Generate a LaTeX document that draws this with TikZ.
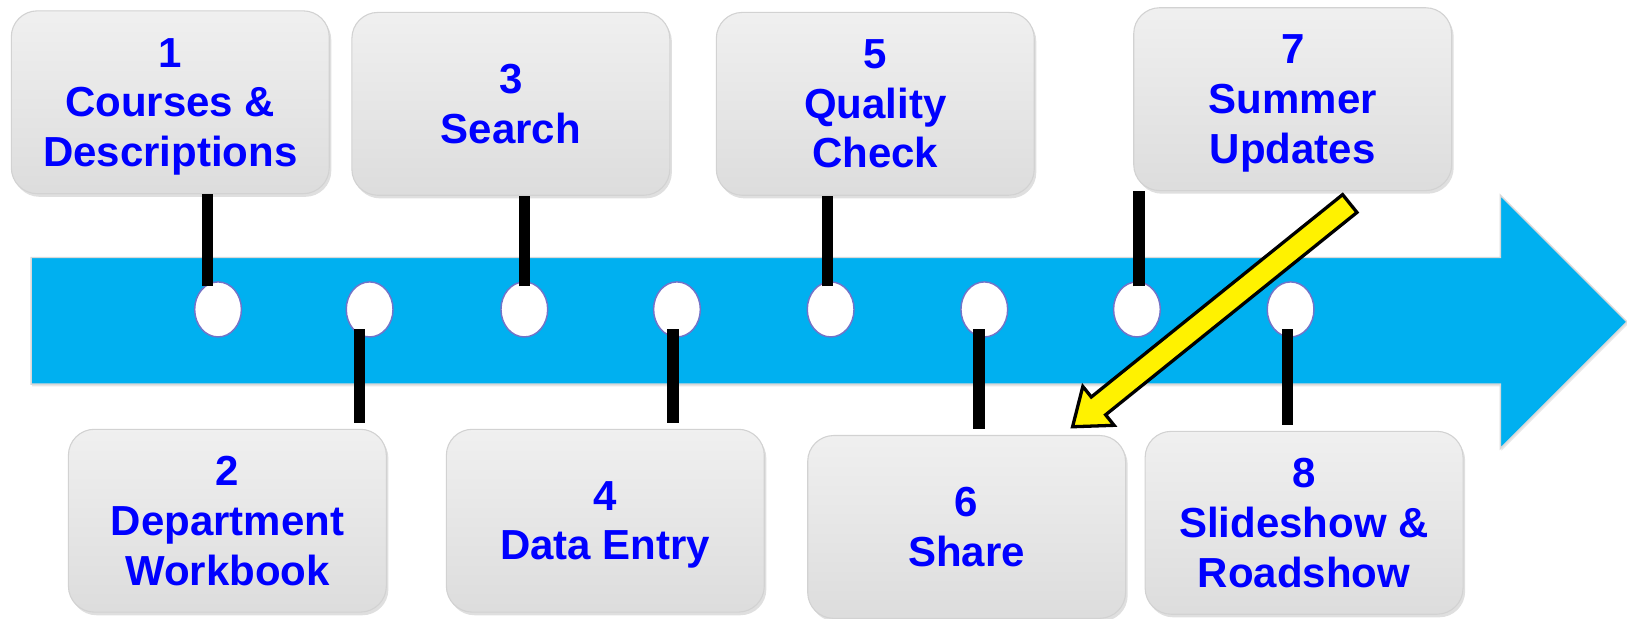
\documentclass[tikz,border=0pt]{standalone}
\usepackage{fontspec}
\setmainfont{Liberation Sans}
\usepackage{xcolor}
\usepackage{tikz}
\usetikzlibrary{calc,shadows,shapes.geometric}
\definecolor{bandblue}{RGB}{0,176,240}
\definecolor{stepblue}{RGB}{0,0,255}
\definecolor{ringblue}{RGB}{115,115,200}

\begin{document}
\begin{tikzpicture}[x=0.01cm,y=-0.01cm,every node/.style={align=center},
    stepbox/.style={rounded corners=0.25cm,top color=gray!12,bottom color=gray!27,draw=gray!35,line width=0.3pt,
      minimum width=3.06cm,minimum height=1.76cm,text depth=0pt,text=stepblue,font=\bfseries\fontsize{11.5}{13.6}\selectfont,
      drop shadow={opacity=0.25,shadow xshift=0.02cm,shadow yshift=-0.03cm}},
    hole/.style={ellipse,draw=ringblue,fill=white,line width=0.4pt,minimum width=0.45cm,minimum height=0.53cm,inner sep=0pt},
    stem/.style={line width=0.11cm}]
  \useasboundingbox (0,0) rectangle (1567,596);
  % time line
  \draw[draw=gray!30,fill=bandblue,drop shadow={opacity=0.2,shadow xshift=0.01cm,shadow yshift=-0.02cm}]
    (30,248) -- (1445,248) -- (1445,188) -- (1567,310) -- (1445,432) -- (1445,370) -- (30,370) -- cycle;
  \foreach \i/\x in {1/210,2/356,3/505,4/652,5/800,6/948,7/1095,8/1243}
    \node[hole] (e\i) at (\x,298) {};
  % steps
  \node[stepbox] (b1) at (164,98.5) {1\\Courses \&\\Descriptions};
  \node[stepbox] (b3) at (492,100) {3\\Search};
  \node[stepbox] (b5) at (843,100) {5\\Quality\\Check};
  \node[stepbox] (b7) at (1245,95.5) {7\\Summer\\Updates};
  \node[stepbox] (b2) at (219,501.5) {2\\Department\\Workbook};
  \node[stepbox] (b4) at (583,501.5) {4\\Data Entry};
  \node[stepbox] (b6) at (931,507.5) {6\\Share};
  \node[stepbox] (b8) at (1256,503.5) {8\\Slideshow \&\\Roadshow};
  \foreach \i/\dx in {1/-0.1,3/0,5/-0.03,7/0.02}
    \draw[stem] ([xshift=\dx cm,yshift=-0.05cm]e\i.north) -- ([xshift=\dx cm]e\i.north |- b\i.south);
  \foreach \i/\dx in {2/-0.1,4/-0.04,6/-0.05,8/-0.03}
    \draw[stem,shorten >=0.06cm] ([xshift=\dx cm,yshift=0.08cm]e\i.south) -- ([xshift=\dx cm]e\i.south |- b\i.north);
  % summer updates go back to share
  \coordinate (ytail) at (1300,196);
  \coordinate (ytip) at (1033,411);
  \coordinate (yhead) at ($(ytip)!0.32cm!(ytail)$);
  \draw[fill=yellow,line width=0.9pt,line join=miter]
    ($(ytail)!0.11cm!90:(ytip)$) -- ($(yhead)!0.11cm!90:(ytip)$) -- ($(yhead)!0.24cm!90:(ytip)$) -- (ytip)
    -- ($(yhead)!0.24cm!-90:(ytip)$) -- ($(yhead)!0.11cm!-90:(ytip)$) -- ($(ytail)!0.11cm!-90:(ytip)$) -- cycle;
\end{tikzpicture}
\end{document}
